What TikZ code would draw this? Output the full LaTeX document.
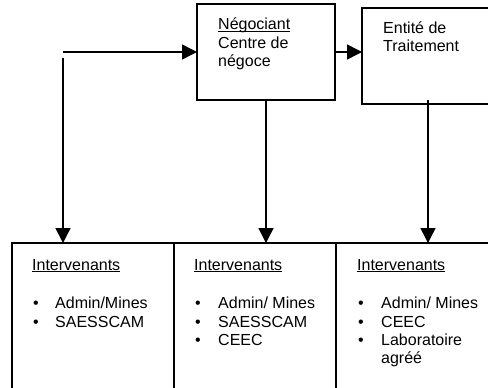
\documentclass[tikz,border=0pt]{standalone}
\usepackage{fontspec}
\setmainfont{Liberation Sans}
\usetikzlibrary{arrows.meta}
\newsavebox\ulbox
\newcommand\ulw[1]{\sbox\ulbox{#1}\usebox\ulbox\llap{\rule[-2pt]{\wd\ulbox}{0.9pt}}}
\tikzset{
  box/.style={draw, line width=1.5pt, inner sep=0pt, outer sep=0pt, anchor=north west},
  txt/.style={anchor=base west, inner sep=0pt, font=\fontsize{16}{18}\selectfont},
  arr/.style={line width=1.5pt, -{Triangle[length=15pt,width=15pt]}},
  ln/.style={line width=1.5pt}
}
\begin{document}
\begin{tikzpicture}[x=1pt,y=-1pt]
\useasboundingbox (0,0) rectangle (488,388);
\begin{scope}
\clip (0,0) rectangle (488,388);
% top boxes
\node[box, minimum width=138pt, minimum height=96pt] (neg) at (197,4) {};
\node[box, minimum width=132pt, minimum height=96pt] (ent) at (362,8) {};
% bottom boxes
\node[box, minimum width=162pt, minimum height=160pt] (b1) at (12,243) {};
\node[box, minimum width=162pt, minimum height=160pt] (b2) at (174,243) {};
\node[box, minimum width=162pt, minimum height=160pt] (b3) at (336,243) {};
% texts top
\node[txt] (t1) at (218,30) {\ulw{Négociant}};
\node[txt] (t2) at (218,48) {Centre de};
\node[txt] (t3) at (218,66) {négoce};
\node[txt] (t4) at (383,34) {Entité de};
\node[txt] (t5) at (383,52) {Traitement};
% bottom texts
\node[txt] (h1) at (32,270) {\ulw{Intervenants}};
\node[txt] (h2) at (194,270) {\ulw{Intervenants}};
\node[txt] (h3) at (357,270) {\ulw{Intervenants}};
% bullets box1
\node[txt] (p11) at (33,308) {\textbullet};
\node[txt] (i11) at (55,308) {Admin/Mines};
\node[txt] (p12) at (33,327) {\textbullet};
\node[txt] (i12) at (55,327) {SAESSCAM};
% box2
\node[txt] (p21) at (195,308) {\textbullet};
\node[txt] (i21) at (218,308) {Admin/ Mines};
\node[txt] (p22) at (195,327) {\textbullet};
\node[txt] (i22) at (218,327) {SAESSCAM};
\node[txt] (p23) at (195,345) {\textbullet};
\node[txt] (i23) at (218,345) {CEEC};
% box3
\node[txt] (p31) at (358,308) {\textbullet};
\node[txt] (i31) at (381,308) {Admin/ Mines};
\node[txt] (p32) at (358,327) {\textbullet};
\node[txt] (i32) at (381,327) {CEEC};
\node[txt] (p33) at (358,345) {\textbullet};
\node[txt] (i33) at (381,345) {Laboratoire};
\node[txt] (i34) at (381,363) {agréé};
% connectors
\coordinate (c1) at (63,52);
\coordinate (c2) at (63,58);
\draw[arr] (c1) -- (c1 -| neg.west);
\draw[arr] (c2) -- (c2 |- b1.north);
\draw[arr] (c1 -| neg.east) -- (c1 -| ent.west);
\draw[arr] (neg.south) -- (neg.south |- b2.north);
\draw[arr] ([yshift=4pt]ent.south) -- (ent.south |- b3.north);
\end{scope}
\end{tikzpicture}
\end{document}
